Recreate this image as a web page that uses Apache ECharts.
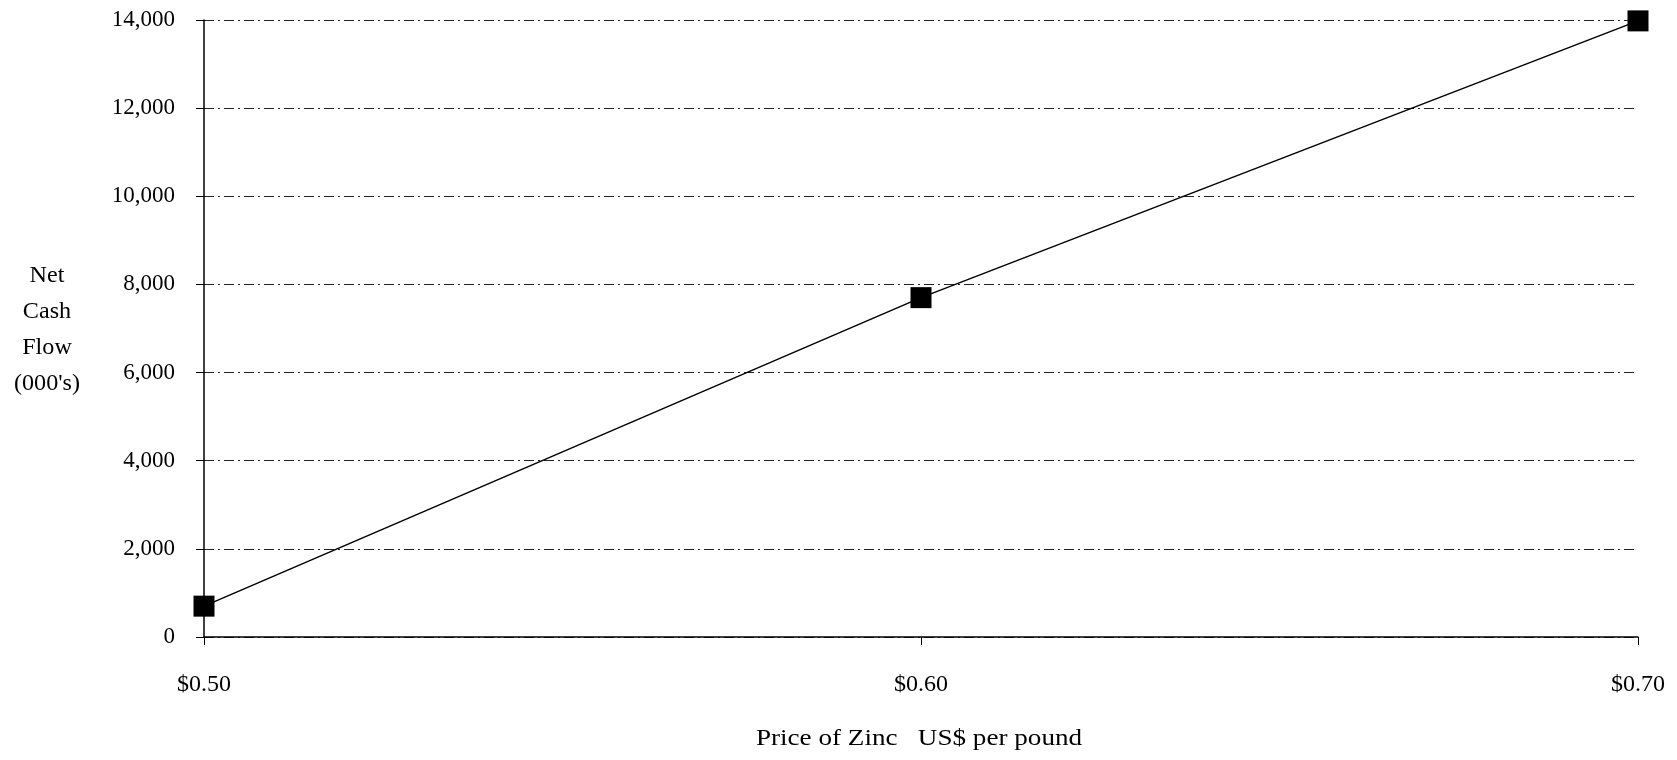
<!DOCTYPE html>
<html>
<head>
<meta charset="utf-8">
<script src="https://cdn.jsdelivr.net/npm/echarts@6/dist/echarts.min.js"></script>
<style>
html,body{margin:0;padding:0;background:#fff;}
#chart{width:1677px;height:760px;}
</style>
</head>
<body>
<div id="chart"></div>
<script>
const categories = ['$0.50', '$0.60', '$0.70'];
const netCashFlow = [700, 7700, 13980];
const yAxisName = ['Net', 'Cash', 'Flow', "(000's)"];
const xAxisName = 'Price of Zinc   US$ per pound';

const FONT = '"Liberation Serif", "DejaVu Serif", serif';
const chart = echarts.init(document.getElementById('chart'));
chart.setOption({
  backgroundColor: '#fff',
  animation: false,
  grid: { left: 204, right: 39, top: 20, bottom: 123 },
  xAxis: {
    type: 'category',
    data: categories,
    boundaryGap: false,
    axisLine: { lineStyle: { color: '#000', width: 1.5 } },
    axisTick: { show: true, alignWithLabel: true, length: 8, lineStyle: { color: '#000' } },
    axisLabel: { color: '#000', fontFamily: FONT, fontSize: 24, margin: 36 },
    splitLine: { show: false }
  },
  yAxis: {
    type: 'value',
    min: 0,
    max: 14000,
    interval: 2000,
    axisLine: { show: true, lineStyle: { color: '#000', width: 1.5 } },
    axisTick: { show: true, length: 8, lineStyle: { color: '#000' } },
    axisLabel: {
      color: '#000', fontFamily: FONT, fontSize: 23, margin: 29,
      formatter: v => v.toLocaleString('en-US')
    },
    splitLine: { show: true, lineStyle: { color: '#222', width: 1, type: [10, 4, 2, 4] } }
  },
  graphic: [{
    type: 'text',
    x: 47,
    y: 258,
    scaleX: 1.05,
    style: {
      text: yAxisName.join('\n'),
      font: '23px ' + FONT,
      fill: '#000',
      align: 'center',
      verticalAlign: 'top',
      lineHeight: 36
    }
  }, {
    type: 'text',
    x: 919,
    y: 739,
    scaleX: 1.13,
    style: {
      text: xAxisName,
      font: '24px ' + FONT,
      fill: '#000',
      align: 'center',
      verticalAlign: 'middle'
    }
  }],
  series: [{
    type: 'line',
    data: netCashFlow,
    symbol: 'rect',
    symbolSize: 21,
    itemStyle: { color: '#000' },
    lineStyle: { color: '#000', width: 1.5 }
  }]
});
</script>
</body>
</html>
